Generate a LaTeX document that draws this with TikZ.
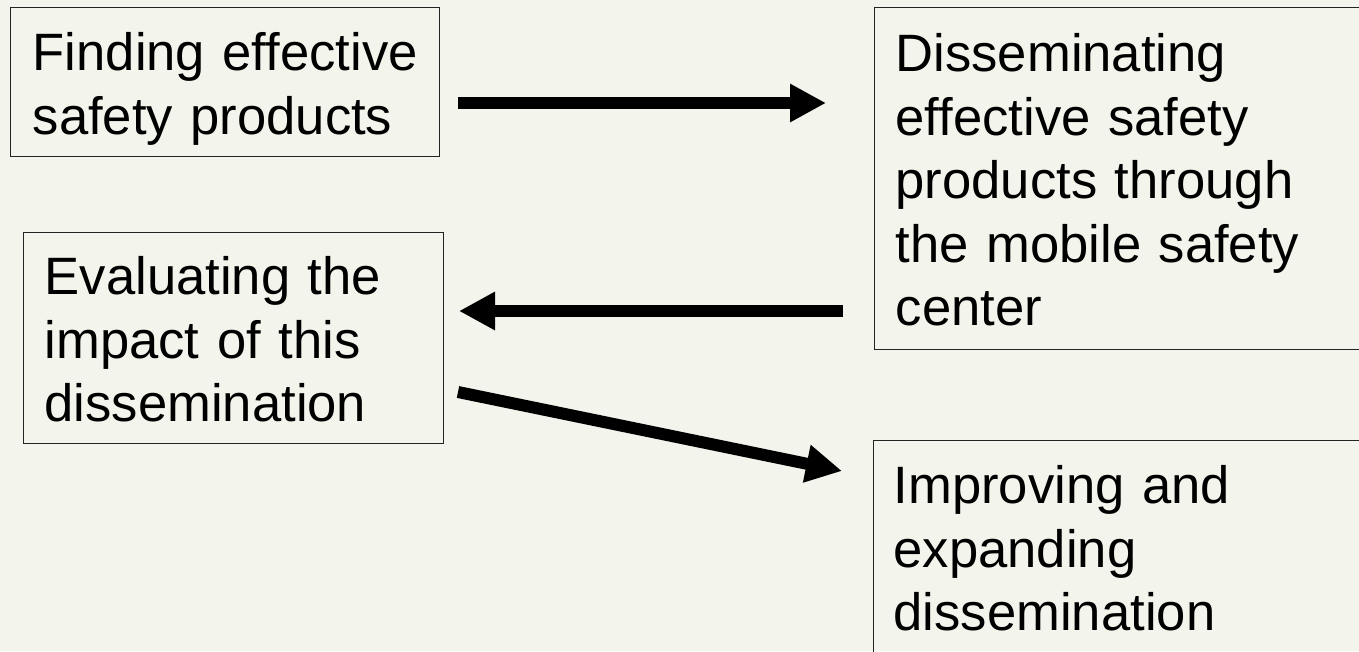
\documentclass[tikz,border=0pt]{standalone}
\usepackage{fontspec}
\setmainfont{Liberation Sans}
\usetikzlibrary{arrows.meta}
\definecolor{bgcol}{RGB}{243,244,236}
\definecolor{edgecol}{RGB}{35,35,35}
\begin{document}
\begin{tikzpicture}[x=1pt,y=-1pt,
  txtbox/.style={draw=edgecol, line width=1.4pt, anchor=north west, align=left,
    inner ysep=0pt, font=\fontsize{52.6}{63.5}\selectfont, text=black},
  bigarrow/.style={line width=12pt, -{Triangle[length=36pt,width=36pt]}}]
\fill[bgcol] (0,0) rectangle (1359,651);
\useasboundingbox (0,0) rectangle (1359,651);
\begin{scope}
\clip (0,0) rectangle (1359,651);
\node[txtbox, inner xsep=22pt, text width=385pt, text height=63pt, text depth=86pt]
  (find) at (10,7) {Finding effective\\safety products};
\node[txtbox, inner xsep=21pt, text width=378pt, text height=62pt, text depth=149pt]
  (eval) at (23,232) {Evaluating the\\impact of this\\dissemination};
\node[txtbox, inner xsep=21pt, text width=480pt, text height=64pt, text depth=278pt]
  (diss) at (874,7) {Disseminating\\effective safety\\products through\\the mobile safety\\center};
\node[txtbox, inner xsep=20pt, text width=480pt, text height=63pt, text depth=200pt]
  (impr) at (873,440) {Improving and\\expanding\\dissemination};
\end{scope}
\coordinate (a1s) at (458,103);
\coordinate (a1e) at (826,103);
\coordinate (a2s) at (843,311);
\coordinate (a2e) at (459,311);
\coordinate (a3s) at (458,392);
\coordinate (a3e) at (842,471);
\draw[bigarrow] (a1s) -- (a1e);
\draw[bigarrow] (a2s) -- (a2e);
\draw[bigarrow] (a3s) -- (a3e);
\end{tikzpicture}
\end{document}
